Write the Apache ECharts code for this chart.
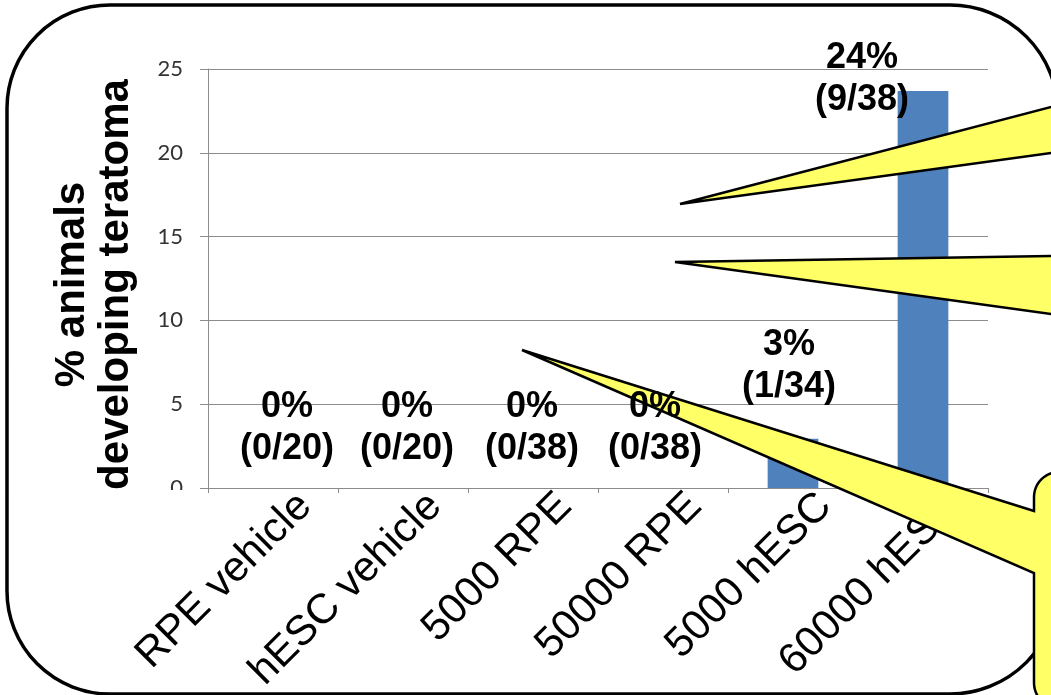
<!DOCTYPE html>
<html>
<head>
<meta charset="utf-8">
<script src="https://cdn.jsdelivr.net/npm/echarts@6/dist/echarts.min.js"></script>
<style>
  html, body { margin: 0; padding: 0; background: #ffffff; }
  #chart { width: 1051px; height: 695px; }
</style>
</head>
<body>
<div id="chart"></div>
<script>
// Groups injected, and the share of animals that developed teratoma in each
const groups = ['RPE vehicle', 'hESC vehicle', '5000 RPE', '50000 RPE', '5000 hESC', '60000 hESC'];
const teratomaPct = [0, 0, 0, 0, 2.94, 23.68];
const pctText = ['0%', '0%', '0%', '0%', '3%', '24%'];
const countText = ['0/20', '0/20', '0/38', '0/38', '1/34', '9/38'];
const yTicks = { min: 0, max: 25, step: 5 };

// Hand-placed nudges for the value text boxes [dx, dy]
const labelNudge = [[14, -18], [4, -18], [-1, -18], [-8, -18], [-4, -31], [-61, 30]];

const FONT = '"Liberation Sans", Arial, Helvetica, sans-serif';
const GRID_GRAY = '#8c8c8c';
const BAR_BLUE = '#4f81bd';
const NOTE_YELLOW = '#ffff66';

const labelItems = teratomaPct.map((v, i) => ({
  value: v,
  label: { offset: labelNudge[i] }
}));

// quarter-circle corner as a run of points (for the speech-bubble outline)
function corner(cx, cy, r, a0, a1, steps) {
  const pts = [];
  for (let k = 0; k <= steps; k++) {
    const a = a0 + (a1 - a0) * k / steps;
    pts.push([cx + r * Math.cos(a), cy + r * Math.sin(a)]);
  }
  return pts;
}

// lower speech bubble: pointer plus the left side of its rounded body
const bubbleR = 25;
const bubblePts = [[522, 350], [1034, 511]]
  .concat(corner(1034 + bubbleR, 472 + bubbleR, bubbleR, Math.PI, 1.5 * Math.PI, 12))
  .concat([[1110, 472], [1110, 708]])
  .concat(corner(1034 + bubbleR, 708 - bubbleR, bubbleR, 0.5 * Math.PI, Math.PI, 12))
  .concat([[1034, 573]]);

const chart = echarts.init(document.getElementById('chart'), null, { renderer: 'canvas' });

chart.setOption({
  backgroundColor: '#ffffff',
  animation: false,
  grid: [
    { left: 208, right: 63, top: 69, bottom: 207 },
    // companion grid that only carries the slanted group names
    { left: 240, right: 31, top: 69, bottom: 207 }
  ],
  xAxis: [
    {
      gridIndex: 0,
      type: 'category',
      data: groups,
      axisLine: { lineStyle: { color: GRID_GRAY, width: 1 } },
      axisTick: { show: true, alignWithLabel: false, length: 5, lineStyle: { color: GRID_GRAY } },
      axisLabel: { show: false }
    },
    {
      gridIndex: 1,
      type: 'category',
      data: groups,
      axisLine: { show: false },
      axisTick: { show: false },
      axisLabel: {
        interval: 0,
        rotate: 45,
        margin: 14,
        color: '#000000',
        fontFamily: FONT,
        fontSize: 42
      }
    }
  ],
  yAxis: [
    {
      gridIndex: 0,
      type: 'value',
      min: yTicks.min,
      max: yTicks.max,
      interval: yTicks.step,
      name: '% animals\ndeveloping teratoma',
      nameLocation: 'middle',
      nameGap: 70,
      nameTextStyle: {
        fontFamily: FONT,
        fontWeight: 'bold',
        fontSize: 42,
        lineHeight: 44,
        color: '#000000',
        padding: [0, 12, 0, 0]
      },
      axisLine: { show: true, lineStyle: { color: GRID_GRAY, width: 1 } },
      axisTick: { show: true, length: 8, lineStyle: { color: GRID_GRAY } },
      axisLabel: {
        margin: 25,
        color: '#333333',
        fontFamily: 'Lato, "Open Sans", sans-serif',
        fontSize: 22
      },
      splitLine: { show: true, lineStyle: { color: GRID_GRAY, width: 1 } }
    },
    { gridIndex: 1, type: 'value', show: false, min: 0, max: 25 }
  ],
  series: [
    {
      name: 'teratoma',
      type: 'bar',
      xAxisIndex: 0,
      yAxisIndex: 0,
      data: teratomaPct,
      barWidth: '39%',
      itemStyle: { color: BAR_BLUE },
      silent: true,
      z: 2
    },
    {
      // same values again, drawn clear, so the value text sits above the notes
      name: 'teratoma-labels',
      type: 'bar',
      xAxisIndex: 0,
      yAxisIndex: 0,
      data: labelItems,
      barWidth: '39%',
      barGap: '-100%',
      itemStyle: { color: 'rgba(0,0,0,0)' },
      silent: true,
      z: 20,
      label: {
        show: true,
        position: 'top',
        distance: 0,
        fontFamily: FONT,
        fontWeight: 'bold',
        fontSize: 36,
        lineHeight: 42,
        color: '#000000',
        align: 'center',
        formatter: p => pctText[p.dataIndex] + '\n(' + countText[p.dataIndex] + ')'
      }
    }
  ],
  graphic: [
    {
      // rounded frame around the whole figure; its right side runs just past the edge
      type: 'rect',
      z: 1,
      silent: true,
      shape: { x: 7, y: 5, width: 1051, height: 689, r: [103, 108, 108, 103] },
      style: { fill: 'none', stroke: '#000000', lineWidth: 3.5 }
    },
    {
      // hides the lower half of the "0" tick text under the axis
      type: 'rect',
      z: 1,
      silent: true,
      shape: { x: 150, y: 490, width: 50, height: 14 },
      style: { fill: '#ffffff' }
    },
    {
      type: 'polygon',
      z: 10,
      silent: true,
      shape: { points: [[680, 204], [1060, 104.6], [1060, 151.8]] },
      style: { fill: NOTE_YELLOW, stroke: '#000000', lineWidth: 2.5, lineJoin: 'miter' }
    },
    {
      type: 'polygon',
      z: 10,
      silent: true,
      shape: { points: [[675, 262], [1060, 255.9], [1060, 315.2]] },
      style: { fill: NOTE_YELLOW, stroke: '#000000', lineWidth: 2.5, lineJoin: 'miter' }
    },
    {
      type: 'polygon',
      z: 10,
      silent: true,
      shape: { points: bubblePts },
      style: { fill: NOTE_YELLOW, stroke: '#000000', lineWidth: 2.5, lineJoin: 'miter' }
    }
  ]
});
</script>
</body>
</html>
